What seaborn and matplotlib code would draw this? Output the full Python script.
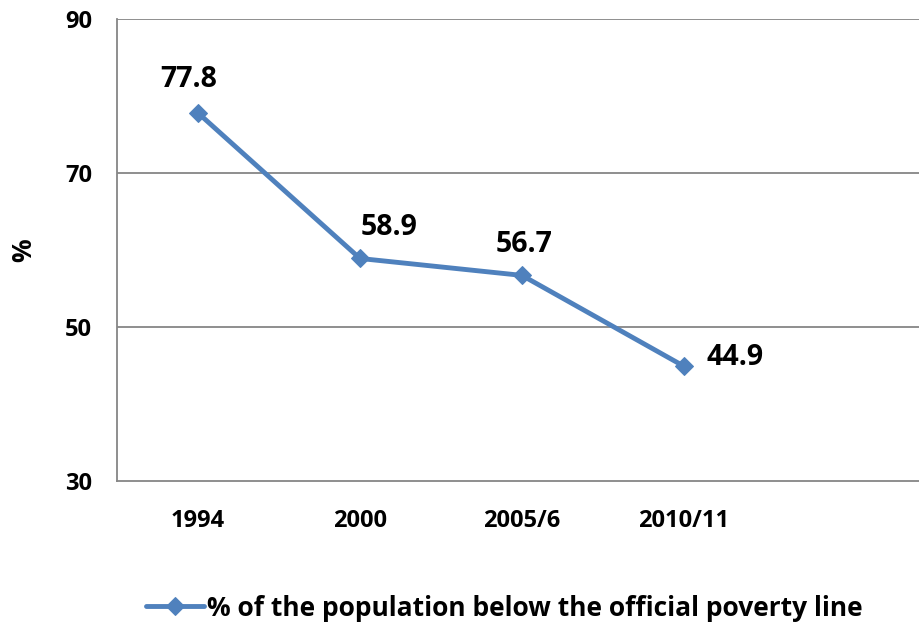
import matplotlib
matplotlib.use("Agg")
import matplotlib.pyplot as plt
import seaborn as sns
import pandas as pd

years = ["1994", "2000", "2005/6", "2010/11"]
values = [77.8, 58.9, 56.7, 44.9]
series_name = "% of the population below the official poverty line"
yticks = [30, 50, 70, 90]

sns.set_theme(style="white")
plt.rcParams['font.family'] = ['Open Sans', 'DejaVu Sans']
plt.rcParams['font.weight'] = 'bold'
plt.rcParams['text.color'] = 'black'
plt.rcParams['xtick.color'] = 'black'
plt.rcParams['ytick.color'] = 'black'
plt.rcParams['axes.labelcolor'] = 'black'

df = pd.DataFrame({"year": years, "value": values, "series": series_name})

fig = plt.figure(figsize=(9.2, 6.24), dpi=100)
ax = fig.add_axes([117/920, 1 - 481/624, 810/920, (481 - 19)/624])

color = "#4F81BD"
sns.lineplot(data=df, x="year", y="value", hue="series", palette=[color],
             marker="D", markersize=9, linewidth=3.5, markeredgecolor=color,
             sort=False, ax=ax)

ax.set_xlim(-0.5, 4.5)
ax.set_ylim(30, 90)
ax.set_yticks(yticks)
ax.set_yticklabels([str(t) for t in yticks], fontsize=17, fontweight='bold')
ax.set_xticks(range(len(years)))
ax.set_xticklabels(years, fontsize=17, fontweight='bold')
ax.tick_params(axis='y', length=0, pad=18)
ax.tick_params(axis='x', length=0, pad=20)
ax.set_xlabel("")
ax.set_ylabel("%", fontsize=19, fontweight='bold', labelpad=20)

for y in yticks[1:]:
    ax.axhline(y, color="#868686", linewidth=1.3, zorder=0)
for s in ["top", "right"]:
    ax.spines[s].set_visible(False)
for s in ["left", "bottom"]:
    ax.spines[s].set_color("#868686")
    ax.spines[s].set_linewidth(1.3)

offsets = [(-7, 24), (21, 22), (1.5, 22), (37, 6)]
for i, (v, off) in enumerate(zip(values, offsets)):
    ax.annotate(f"{v}", (i, v), xytext=off, textcoords="offset points",
                ha="center", va="center", fontsize=20.5, fontweight='bold',
                color="black")

leg = fig.legend(handles=ax.get_legend().legend_handles, labels=[series_name],
                 loc="center", bbox_to_anchor=(504/920, 1 - 608/624),
                 frameon=False, fontsize=19, handlelength=2.2, handletextpad=0.1)
ax.get_legend().remove()
for t in leg.get_texts():
    t.set_fontweight('bold')
    t.set_color('black')

fig.savefig("out.png", dpi=100)
